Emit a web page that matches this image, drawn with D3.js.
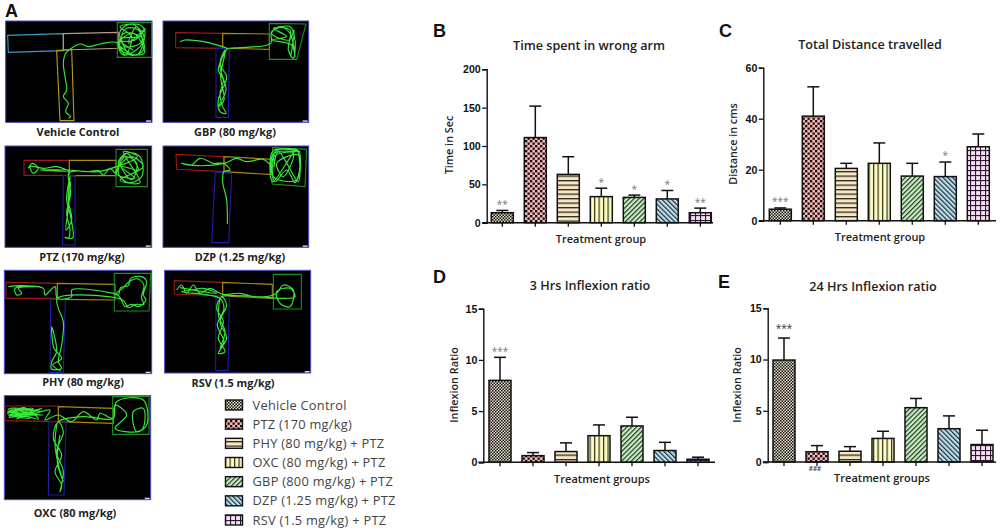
<!DOCTYPE html>
<html><head><meta charset="utf-8">
<script src="https://cdn.jsdelivr.net/npm/d3@7"></script>
<style>html,body{margin:0;padding:0;background:#fff}svg{display:block}</style>
</head><body><svg id="c" width="1000" height="531"></svg>
<script>
// ---- bar data ----
const categories = ["Vehicle Control","PTZ (170 mg/kg)","PHY (80 mg/kg) + PTZ","OXC (80 mg/kg) + PTZ","GBP (800 mg/kg) + PTZ","DZP (1.25 mg/kg) + PTZ","RSV (1.5 mg/kg) + PTZ"];
const wrongArmMean = [13,111,63,34,33,31,13];
const wrongArmTop  = [16,152,86,45,36,42,19];
const wrongArmSig  = ["**","","","*","*","*","**"];
const distMean = [4.5,41,20.5,22.5,17.5,17.3,29];
const distTop  = [5,52.5,22.5,30.5,22.5,23,34];
const distSig  = ["***","","","","","*",""];
const ratio3Mean = [8,0.65,1.05,2.6,3.55,1.15,0.3];
const ratio3Top  = [10.25,0.95,1.9,3.65,4.4,1.95,0.5];
const ratio3Sig  = ["***","","","","","",""];
const ratio24Mean = [9.95,1.0,1.05,2.3,5.3,3.25,1.7];
const ratio24Top  = [12.1,1.6,1.5,3.0,6.2,4.5,3.1];
const ratio24Sig  = ["***","","","","","",""];
const ticksB = [0,50,100,150,200];
const ticksC = [0,20,40,60];
const ticksDE = [0,5,10,15];

// ---- tracking tiles: values, in picture units ----
const tileNames = ["Vehicle Control","GBP (80 mg/kg)","PTZ (170 mg/kg)","DZP (1.25 mg/kg)","PHY (80 mg/kg)","RSV (1.5 mg/kg)","OXC (80 mg/kg)"];
const frameVehicle=[17,63,456,367], frameGBP=[489,63,926,367], framePTZ=[15,438,455,742], frameDZP=[489,438,926,742],
      framePHY=[13,16,455,326], frameRSV=[494,16,932,324], frameOXC=[13,392,452,704];
const zonesVehicle=[["#3a9cc0",[23,106,190,101,190,152,25,157]],["#b89a88",[190,101,355,97,355,145,190,150]],["#b8a010",[170,152,215,148,222,362,180,362]],["#1f8f1f",[352,68,455,68,455,172,352,172]]];
const zonesGBP=[["#9a1a1a",[527,98,668,100,668,145,527,143]],["#a88a10",[668,100,808,102,808,148,668,145]],["#2020a0",[648,145,688,145,685,352,648,352]],["#1f8f1f",[808,70,918,72,890,178,808,178]]];
const zonesPTZ=[["#9a1a1a",[72,481,208,481,208,526,72,526]],["#a88a10",[208,481,348,481,348,527,208,527]],["#2020a0",[190,527,225,527,225,735,188,735]],["#1f8f1f",[348,448,442,448,442,560,348,560]]];
const zonesDZP=[["#9a1a1a",[528,463,672,470,672,515,530,508]],["#a88a10",[672,470,818,478,818,524,672,515]],["#2020a0",[646,516,695,520,686,728,635,728]],["#1f8f1f",[818,443,920,448,915,560,816,552]]];
const zonesPHY=[["#9a1a1a",[18,52,172,55,172,100,18,100]],["#a88a10",[172,55,345,58,345,105,172,103]],["#2020a0",[152,103,196,103,190,323,150,323]],["#1f8f1f",[343,25,452,25,447,138,343,138]]];
const zonesRSV=[["#9a1a1a",[523,47,668,52,668,93,523,87]],["#a88a10",[668,52,817,58,817,100,668,93]],["#2020a0",[648,93,688,93,684,317,647,317]],["#1f8f1f",[820,28,904,28,904,132,820,132]]];
const zonesOXC=[["#9a1a1a",[15,423,175,423,175,470,15,467]],["#a88a10",[175,425,340,430,340,475,175,470]],["#2020a0",[147,470,198,470,192,690,145,690]],["#1f8f1f",[338,395,447,395,447,508,338,508]]];
const trackVehicle=[205,355,212,350,197,335,205,310,190,290,200,270,195,230,190,190,197,160,210,148,240,132,265,140,300,132,352,128,375,165,395,110,360,80,420,75,435,95,420,140,370,165,355,130,400,100,430,150,390,165,365,110,380,85,415,90,425,125,375,140,360,95,395,72,432,110,410,165,375,150,352,128,405,120,436,85,385,130,410,80,432,160,362,150,372,100,425,110,358,118,400,150];
const trackGBP=[540,125,555,120,590,122,625,128,668,140,680,145,668,170,655,210,670,240,660,280,668,320,678,340,660,335,655,300,675,250,680,230,660,190,675,150,660,200,678,270,655,320,672,300,662,230,672,175,680,148,720,143,812,130,815,95,870,80,885,120,880,175,865,150,870,90,820,85,860,110,815,120,875,135,885,170,870,100,840,80,815,100,868,120,882,90,872,170];
const trackPTZ=[85,505,97,490,115,505,100,520,90,500,130,505,170,500,208,515,160,512,120,510,208,510,260,515,295,512,310,525,330,505,348,520,360,480,385,458,420,470,425,530,385,548,355,520,375,470,410,490,395,540,365,500,415,510,380,460,355,490,405,535,348,520,392,470,430,500,360,540,420,548,370,455,412,470,300,514,208,518,212,580,200,640,210,690,205,715,195,712,218,714,212,650,200,600,210,530,205,600,215,660,198,690,206,620,212,545];
const trackDZP=[682,672,680,600,668,545,672,515,690,510,670,490,640,490,600,475,575,495,545,490,590,497,672,490,710,475,740,485,790,478,820,500,825,455,895,452,900,500,885,548,860,510,825,545,822,470,880,460,850,530,830,490,895,465,890,540,820,530,822,460,900,455,820,452,818,545,890,452,895,545,835,455,822,500];
const trackPHY=[25,65,60,62,120,65,55,70,65,85,50,90,45,70,130,70,135,90,165,65,172,100,215,95,215,75,340,85,355,90,362,68,385,62,392,40,425,35,440,50,430,90,438,105,415,125,395,118,375,125,362,100,350,85,368,70,390,48,415,42,432,62,424,98,432,118,408,118,385,128,368,105,172,100,175,130,190,170,185,240,175,290,185,310,155,312,155,290,170,260,155,185,162,250,185,280,158,300,182,318];
const trackRSV=[530,75,545,60,560,85,580,60,600,85,630,70,668,88,720,85,760,95,800,95,830,85,850,60,880,75,870,125,840,115,830,80,870,70,885,95,845,100,800,97,700,92,665,95,650,130,670,170,655,220,675,260,655,265,680,220,660,170,680,120,665,95,655,150,675,200,660,250,672,230,652,180,672,130,660,100,545,80,575,75,610,70,650,85,540,68];
const trackOXC=[22,440,100,430,40,455,120,440,30,430,90,460,25,450,110,450,35,435,80,455,22,445,95,435,50,462,125,430,28,458,70,428,115,462,24,432,105,440,45,446,130,450,30,442,85,450,150,435,135,465,175,450,215,470,250,440,290,465,300,445,340,460,350,410,430,405,440,480,410,500,400,440,430,430,425,495,345,490,380,450,345,420,340,460,250,455,175,470,160,520,185,570,165,620,185,660,180,680,190,620,170,560,190,500,175,470,165,540,178,610,190,650,172,590,180,510];

const legendFill=["url(#pV)","url(#pP)","url(#pH)","url(#pO)","url(#pG)","url(#pD)","url(#pR)"];
const svg=d3.select("#c");
const defs=svg.append("defs");
defs.append("filter").attr("id","soft").append("feGaussianBlur").attr("stdDeviation",0.3);
function pat(id,w,h,bg,rot,draw){
  const p=defs.append("pattern").attr("id",id).attr("patternUnits","userSpaceOnUse").attr("width",w).attr("height",h);
  if(rot)p.attr("patternTransform","rotate("+rot+")");
  p.append("rect").attr("width",w).attr("height",h).attr("fill",bg);
  draw(p);
}
const blk="#111";
pat("pV",3,3,"#e8e2c8",0,p=>{p.append("rect").attr("width",1.5).attr("height",1.5).attr("fill",blk);p.append("rect").attr("x",1.5).attr("y",1.5).attr("width",1.5).attr("height",1.5).attr("fill",blk);});
pat("pP",5,5,"#f9b4b4",0,p=>{p.append("rect").attr("width",2.3).attr("height",2.3).attr("fill",blk);p.append("rect").attr("x",2.5).attr("y",2.5).attr("width",2.3).attr("height",2.3).attr("fill",blk);});
pat("pH",4.5,4.5,"#f6e6c6",0,p=>p.append("rect").attr("width",4.5).attr("height",1.3).attr("fill","#2a2a1a"));
pat("pO",4.5,4.5,"#fbfbc4",0,p=>p.append("rect").attr("width",1.2).attr("height",4.5).attr("fill","#33331a"));
pat("pG",3.4,3.4,"#cdeec4",45,p=>p.append("rect").attr("width",1.2).attr("height",3.4).attr("fill","#1e3a24"));
pat("pD",3.4,3.4,"#bfe0ec",-45,p=>p.append("rect").attr("width",1.2).attr("height",3.4).attr("fill","#1a2e3a"));
pat("pR",5,5,"#f6def4",0,p=>{p.append("rect").attr("width",5).attr("height",1.1).attr("fill","#2a1a30");p.append("rect").attr("width",1.1).attr("height",5).attr("fill","#2a1a30");});

// ---- tiles ----
const sansT='"Open Sans","Noto Sans",sans-serif';
const upperY=d3.scaleLinear().domain([0,3]).range([0,1]);
const lowerY=d3.scaleLinear().domain([0,3]).range([265,266]);
const sx=d3.scaleLinear().domain([0,3]).range([0,1]);
function pairs(a){return d3.range(0,a.length,2).map(i=>[a[i],a[i+1]]);}
const tiles=[
 {f:frameVehicle,z:zonesVehicle,t:trackVehicle,sy:upperY,lx:78,ly:135.5},
 {f:frameGBP,z:zonesGBP,t:trackGBP,sy:upperY,lx:235,ly:135.5},
 {f:framePTZ,z:zonesPTZ,t:trackPTZ,sy:upperY,lx:82,ly:261},
 {f:frameDZP,z:zonesDZP,t:trackDZP,sy:upperY,lx:240,ly:261},
 {f:framePHY,z:zonesPHY,t:trackPHY,sy:lowerY,lx:83,ly:386},
 {f:frameRSV,z:zonesRSV,t:trackRSV,sy:lowerY,lx:233,ly:387},
 {f:frameOXC,z:zonesOXC,t:trackOXC,sy:lowerY,lx:75,ly:517}];
tiles.forEach((d,i)=>{
  const g=svg.append("g"), y=d.sy;
  g.append("rect").attr("x",sx(d.f[0])).attr("y",y(d.f[1])).attr("width",sx(d.f[2])-sx(d.f[0])).attr("height",y(d.f[3])-y(d.f[1]))
    .attr("fill","#000").attr("stroke","#4a48c0").attr("stroke-width",1);
  g.selectAll("polygon").data(d.z).join("polygon")
    .attr("points",z=>pairs(z[1]).map(p=>[sx(p[0]),y(p[1])].join(",")).join(" "))
    .attr("fill","none").attr("stroke",z=>z[0]).attr("stroke-width",1.1);
  const line=d3.line().x(p=>sx(p[0])).y(p=>y(p[1])).curve(d3.curveCatmullRom.alpha(0.5));
  g.append("path").attr("d",line(pairs(d.t))).attr("fill","none").attr("stroke","#38e838").attr("stroke-width",1.15).attr("filter","url(#soft)");
  g.append("rect").attr("x",sx(d.f[2])-6).attr("y",y(d.f[3])-2).attr("width",5).attr("height",1.5).attr("fill","#c8c8f0");
  g.append("text").attr("x",d.lx).attr("y",d.ly).attr("text-anchor","middle").attr("font-family",sansT).attr("font-weight",700).attr("font-size",10.9).attr("fill","#222").text(tileNames[i]);
});

// ---- legend ----
const legendY=d3.scalePoint().domain(categories).range([405,520]);
const leg=svg.append("g");
leg.selectAll("rect").data(categories).join("rect").attr("x",225.5).attr("y",d=>legendY(d)-5).attr("width",17).attr("height",10)
  .attr("fill",(d,i)=>legendFill[i]).attr("stroke","#111").attr("stroke-width",1.4);
leg.selectAll("text").data(categories).join("text").attr("x",252.5).attr("y",d=>legendY(d)+4.5)
  .attr("font-family",sansT).attr("font-size",12.8).attr("letter-spacing",0.28).attr("fill","#444").text(d=>d);

// ---- bar panels ----
const panels=[
 {m:wrongArmMean,e:wrongArmTop,s:wrongArmSig,ticks:ticksB,x0:486.7,y0:222.7,y1:69.3,c0:502.3,ax0:482.3,ax1:713,title:"Time spent in wrong arm",tx:589,ty:50,yl:"Time in Sec",ylx:453,yly:145,xl:"Treatment group",xlx:601,xly:243,starOff:2,starFill:"#777"},
 {m:distMean,e:distTop,s:distSig,ticks:ticksC,x0:763.3,y0:220.7,y1:67.7,c0:780.3,ax0:759,ax1:996,title:"Total Distance travelled",tx:870,ty:49,yl:"Distance in cms",ylx:737,yly:144,xl:"Treatment group",xlx:880,xly:241,starOff:3,starFill:"#777"},
 {m:ratio3Mean,e:ratio3Top,s:ratio3Sig,ticks:ticksDE,x0:483.3,y0:462.3,y1:308.7,c0:500,ax0:478.5,ax1:715,title:"3 Hrs Inflexion ratio",tx:590,ty:290,yl:"Inflexion Ratio",ylx:458,yly:385,xl:"Treatment groups",xlx:602,xly:483,starOff:2,starFill:"#777"},
 {m:ratio24Mean,e:ratio24Top,s:ratio24Sig,ticks:ticksDE,x0:767.7,y0:462,y1:308.3,c0:784,ax0:763,ax1:996,title:"24 Hrs Inflexion ratio",tx:873,ty:291,yl:"Inflexion Ratio",ylx:741,yly:385,xl:"Treatment groups",xlx:882,xly:482,starOff:6,starFill:"#333"}];
const arial='"Liberation Sans",Arial,sans-serif';
panels.forEach(p=>{
  const g=svg.append("g");
  const step=33;
  const x=d3.scaleBand().domain(categories).range([p.c0-step/2,p.c0+6.5*step]).paddingInner(1/3).paddingOuter(1/6);
  const y=d3.scaleLinear().domain([0,d3.max(p.ticks)]).range([p.y0,p.y1]);
  const cx=c=>x(c)+x.bandwidth()/2;
  g.selectAll("line.err").data(categories).join("line").attr("class","err").attr("x1",cx).attr("x2",cx)
    .attr("y1",(c,i)=>y(p.m[i])).attr("y2",(c,i)=>y(p.e[i])).attr("stroke","#111").attr("stroke-width",1.5);
  g.selectAll("line.cap").data(categories).join("line").attr("class","cap").attr("x1",c=>cx(c)-6).attr("x2",c=>cx(c)+6)
    .attr("y1",(c,i)=>y(p.e[i])).attr("y2",(c,i)=>y(p.e[i])).attr("stroke","#111").attr("stroke-width",1.5);
  g.selectAll("rect.bar").data(categories).join("rect").attr("class","bar").attr("x",c=>x(c)).attr("width",x.bandwidth())
    .attr("y",(c,i)=>y(p.m[i])).attr("height",(c,i)=>y(0)-y(p.m[i]))
    .attr("fill",(c,i)=>legendFill[i]).attr("stroke","#111").attr("stroke-width",1.5);
  const ay=g.append("g").attr("transform",`translate(${p.x0},0)`).call(d3.axisLeft(y).tickValues(p.ticks).tickSize(4.5).tickPadding(1.5));
  const ax=g.append("g").attr("transform",`translate(0,${p.y0})`).call(d3.axisBottom(x).tickSize(4).tickFormat(""));
  ax.select(".domain").attr("d",`M${p.ax0},0H${p.ax1}`);
  [ay,ax].forEach(a=>{a.select(".domain").attr("stroke","#111").attr("stroke-width",1.4);a.selectAll(".tick line").attr("stroke","#111").attr("stroke-width",1.3);});
  ay.selectAll("text").attr("font-family",arial).attr("font-weight",700).attr("font-size",10.6).attr("fill","#111");
  g.selectAll("text.sig").data(categories).join("text").attr("class","sig").attr("x",cx).attr("y",(c,i)=>y(p.e[i])-p.starOff)
    .attr("text-anchor","middle").attr("font-family",sansT).attr("font-size",10).attr("fill",p.starFill).text((c,i)=>p.s[i]);
  g.append("text").attr("x",p.tx).attr("y",p.ty).attr("text-anchor","middle").attr("font-family",sansT).attr("font-weight",600).attr("font-size",12.6).attr("fill","#222").text(p.title);
  g.append("text").attr("transform",`translate(${p.ylx},${p.yly}) rotate(-90)`).attr("text-anchor","middle").attr("font-family",sansT).attr("font-weight",600).attr("font-size",10.8).attr("fill","#222").text(p.yl);
  g.append("text").attr("x",p.xlx).attr("y",p.xly).attr("text-anchor","middle").attr("font-family",sansT).attr("font-weight",600).attr("font-size",11).attr("fill","#222").text(p.xl);
});
svg.append("text").attr("x",815).attr("y",471).attr("text-anchor","middle").attr("font-family",sansT).attr("font-size",6.5).attr("font-weight",700).attr("fill","#555").text("###");
[["A",5,17],["B",433,37],["C",719,37],["D",433,283],["E",718,288]].forEach(l=>{
  svg.append("text").attr("x",l[1]).attr("y",l[2]).attr("font-family",arial).attr("font-weight",700).attr("font-size",18).attr("fill","#111").text(l[0]);
});
</script></body></html>
